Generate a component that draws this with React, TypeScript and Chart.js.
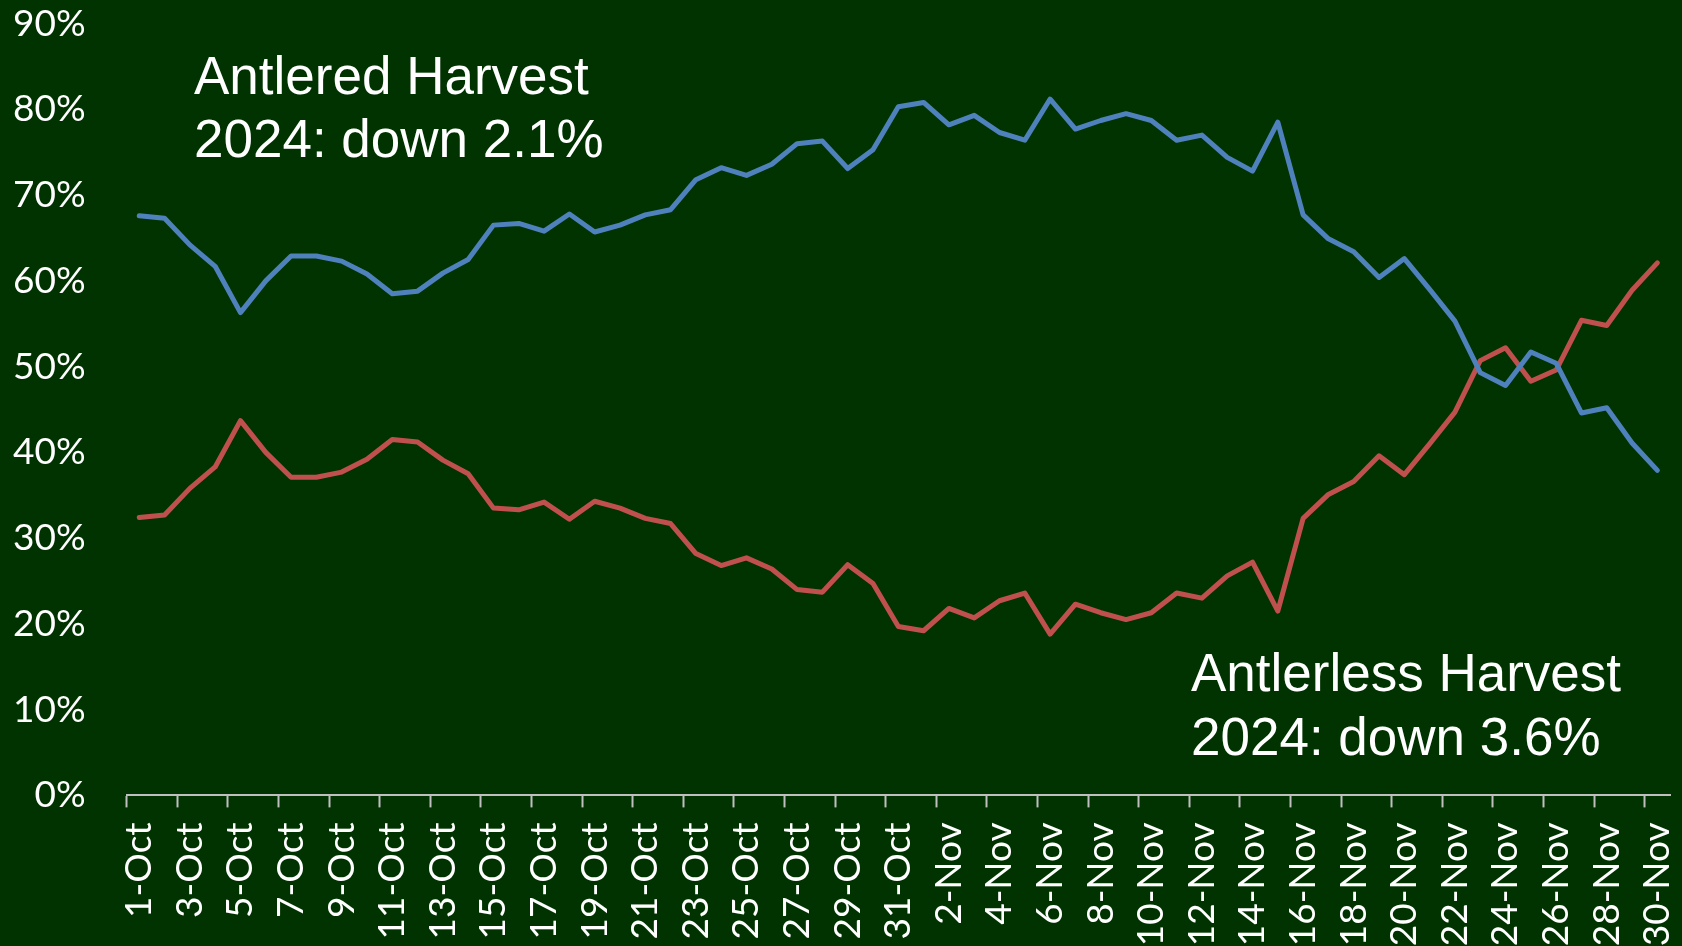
import React, { useEffect, useRef } from "react";
import { Chart, registerables } from "chart.js";

Chart.register(...registerables);

const dates: string[] = [
  "1-Oct", "2-Oct", "3-Oct", "4-Oct", "5-Oct", "6-Oct", "7-Oct", "8-Oct", "9-Oct", "10-Oct",
  "11-Oct", "12-Oct", "13-Oct", "14-Oct", "15-Oct", "16-Oct", "17-Oct", "18-Oct", "19-Oct", "20-Oct",
  "21-Oct", "22-Oct", "23-Oct", "24-Oct", "25-Oct", "26-Oct", "27-Oct", "28-Oct", "29-Oct", "30-Oct",
  "31-Oct", "1-Nov", "2-Nov", "3-Nov", "4-Nov", "5-Nov", "6-Nov", "7-Nov", "8-Nov", "9-Nov",
  "10-Nov", "11-Nov", "12-Nov", "13-Nov", "14-Nov", "15-Nov", "16-Nov", "17-Nov", "18-Nov", "19-Nov",
  "20-Nov", "21-Nov", "22-Nov", "23-Nov", "24-Nov", "25-Nov", "26-Nov", "27-Nov", "28-Nov", "29-Nov",
  "30-Nov",
];

const antlered: number[] = [
  67.6, 67.3, 64.2, 61.7, 56.3, 60.0, 62.9, 62.9, 62.3, 60.8,
  58.5, 58.8, 60.9, 62.5, 66.5, 66.7, 65.8, 67.8, 65.7, 66.5,
  67.7, 68.3, 71.8, 73.2, 72.3, 73.6, 76.0, 76.3, 73.1, 75.3,
  80.3, 80.8, 78.2, 79.3, 77.3, 76.4, 81.2, 77.7, 78.7, 79.5,
  78.7, 76.4, 77.0, 74.4, 72.8, 78.5, 67.7, 64.9, 63.4, 60.4,
  62.6, 59.0, 55.3, 49.3, 47.8, 51.7, 50.4, 44.6, 45.2, 41.1,
  37.9,
];

const antlerless: number[] = [
  32.4, 32.7, 35.8, 38.3, 43.7, 40.0, 37.1, 37.1, 37.7, 39.2,
  41.5, 41.2, 39.1, 37.5, 33.5, 33.3, 34.2, 32.2, 34.3, 33.5,
  32.3, 31.7, 28.2, 26.8, 27.7, 26.4, 24.0, 23.7, 26.9, 24.7,
  19.7, 19.2, 21.8, 20.7, 22.7, 23.6, 18.8, 22.3, 21.3, 20.5,
  21.3, 23.6, 23.0, 25.6, 27.2, 21.5, 32.3, 35.1, 36.6, 39.6,
  37.4, 41.0, 44.7, 50.7, 52.2, 48.3, 49.6, 55.4, 54.8, 58.9,
  62.1,
];

const yTicks: number[] = [0, 10, 20, 30, 40, 50, 60, 70, 80, 90];

const antleredNote: string[] = ["Antlered Harvest", "2024: down 2.1%"];
const antlerlessNote: string[] = ["Antlerless Harvest", "2024: down 3.6%"];

const NOTE_FONT = '"Liberation Sans", Arial, sans-serif';
const TICK_FONT = 'Lato, "Open Sans", sans-serif';
const BG = "#003300";

const notesPlugin = {
  id: "notes",
  afterDraw(chart: any) {
    const ctx = chart.ctx;
    ctx.save();
    ctx.fillStyle = "#ffffff";
    ctx.font = `53px ${NOTE_FONT}`;
    ctx.textAlign = "left";
    ctx.textBaseline = "alphabetic";
    antleredNote.forEach((t, i) => ctx.fillText(t, 194, 93.5 + i * 63.5));
    antlerlessNote.forEach((t, i) => ctx.fillText(t, 1191, 691 + i * 64));
    ctx.restore();
  },
};

export default function App() {
  const ref = useRef<HTMLCanvasElement | null>(null);

  useEffect(() => {
    document.body.style.margin = "0";
    document.body.style.background = BG;
    const canvas = ref.current;
    if (!canvas) return;
    const chart = new Chart(canvas, {
      type: "line",
      data: {
        labels: dates,
        datasets: [
          {
            label: "Antlered",
            data: antlered,
            borderColor: "#4F81BD",
            backgroundColor: "#4F81BD",
            borderWidth: 5,
            pointRadius: 0,
            tension: 0,
            borderJoinStyle: "round",
            borderCapStyle: "round",
          },
          {
            label: "Antlerless",
            data: antlerless,
            borderColor: "#C0504D",
            backgroundColor: "#C0504D",
            borderWidth: 5,
            pointRadius: 0,
            tension: 0,
            borderJoinStyle: "round",
            borderCapStyle: "round",
          },
        ],
      },
      options: {
        responsive: false,
        animation: false,
        devicePixelRatio: 1,
        layout: { padding: { left: 0, right: 12, top: 23.6, bottom: 0 } },
        plugins: {
          legend: { display: false },
          tooltip: { enabled: false },
          title: { display: false },
        },
        scales: {
          x: {
            type: "category",
            offset: true,
            grid: {
              display: true,
              offset: true,
              drawOnChartArea: false,
              drawTicks: true,
              tickLength: 12,
              tickWidth: 2,
              tickColor: (c: any) => (c.index % 2 === 0 ? "#BFBFBF" : "rgba(0,0,0,0)"),
            },
            border: { display: true, color: "#BFBFBF", width: 2 },
            ticks: {
              autoSkip: false,
              maxRotation: 90,
              minRotation: 90,
              padding: 15,
              color: "#ffffff",
              font: { family: TICK_FONT, size: 37 },
              callback: (_v: any, i: number) => (i % 2 === 0 ? dates[i] : ""),
            },
            afterFit: (s: any) => {
              s.height = 946 - 795.4;
              s.paddingLeft = 0;
              s.paddingRight = 0;
            },
          },
          y: {
            min: 0,
            max: 90,
            grid: { display: false, drawTicks: false },
            border: { display: false },
            afterBuildTicks: (s: any) => {
              s.ticks = yTicks.map((v) => ({ value: v }));
            },
            ticks: {
              padding: 41,
              color: "#ffffff",
              font: { family: TICK_FONT, size: 37 },
              callback: (v: any) => `${v}%`,
            },
            afterFit: (s: any) => {
              s.width = 126.6;
              s.paddingTop = 0;
              s.paddingBottom = 0;
            },
          },
        },
      },
      plugins: [notesPlugin],
    });
    return () => chart.destroy();
  }, []);

  return (
    <div style={{ width: 1682, height: 946, background: BG, overflow: "hidden" }}>
      <canvas ref={ref} width={1682} height={946} style={{ display: "block" }} />
    </div>
  );
}
